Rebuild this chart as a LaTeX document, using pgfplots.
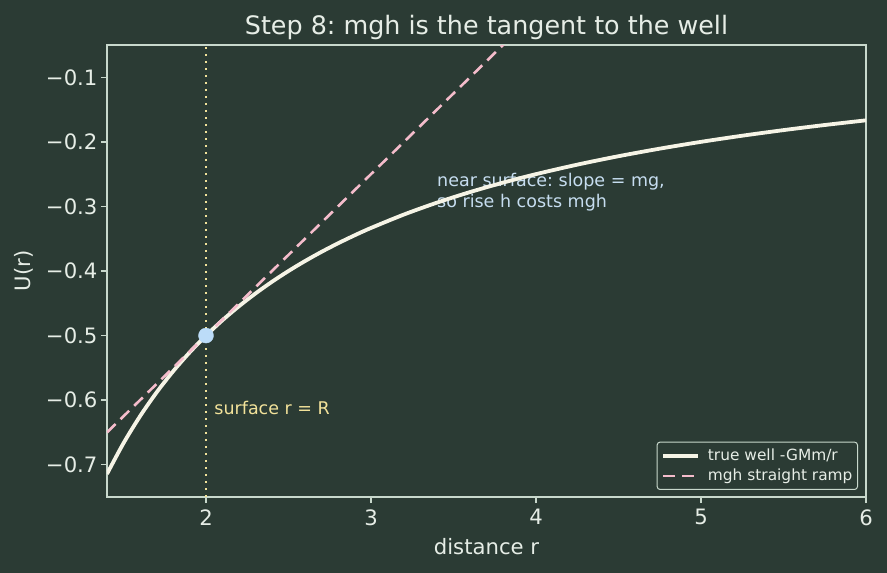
\documentclass[border=0pt]{standalone}
\usepackage{fontspec}
\setmainfont{DejaVu Sans}
\usepackage{pgfplots}
\pgfplotsset{compat=1.18}
\definecolor{bg}{HTML}{2B3B34}
\definecolor{spine}{HTML}{C8D8CC}
\definecolor{txt}{HTML}{E6EDE6}
\definecolor{curve}{HTML}{F6F4E6}
\definecolor{pinkd}{HTML}{F4BCCB}
\definecolor{yell}{HTML}{F2E29A}
\definecolor{bluem}{HTML}{BCDCF8}
\definecolor{bluet}{HTML}{C6DDF0}
\begin{document}
\frenchspacing
\begin{tikzpicture}
\fill[bg] (-107pt,-76pt) rectangle (780pt,497pt);
\path[use as bounding box] (-107pt,-76pt) rectangle (780pt,497pt);
\begin{axis}[
  at={(0,0)}, anchor=south west,
  scale only axis, width=759pt, height=452pt,
  xmin=1.4, xmax=6, ymin=-0.75, ymax=-0.05,
  axis line style={spine, line width=1.3pt},
  xtick={2,3,4,5,6}, xticklabels={2,3,4,5,6},
  ytick={-0.7,-0.6,-0.5,-0.4,-0.3,-0.2,-0.1},
  yticklabels={−0.7,−0.6,−0.5,−0.4,−0.3,−0.2,−0.1},
  xtick pos=bottom, ytick pos=left, tick align=outside,
  major tick length=6pt,
  every tick/.style={spine, line width=1.3pt},
  ticklabel style={font=\fontsize{21.2}{24}\selectfont, text=txt},
  xticklabel style={yshift=-3pt},
  xlabel={distance r}, ylabel={U(r)},
  label style={font=\fontsize{21.2}{24}\selectfont, text=txt},
  xlabel style={yshift=-6pt},
  ylabel style={yshift=6pt},
  title={\frenchspacing Step 8: mgh is the tangent to the well},
  title style={font=\fontsize{25.4}{28}\selectfont, text=txt, yshift=-4pt},
  clip=true,
  legend style={at={(1,0)}, anchor=south east, xshift=-8pt, yshift=7pt,
    fill=bg, draw=spine, line width=1pt, rounded corners=3pt,
    font=\fontsize{15.4}{18}\selectfont, text=txt, inner xsep=3pt, inner ysep=5pt,
    row sep=3pt},
  legend cell align=left,
  legend image code/.code={\draw[#1] (0pt,0pt) -- (35pt,0pt); \path (-1pt,0pt) (41pt,0pt);},
]
\addplot[yell, line width=2pt, dash pattern=on 2pt off 5pt, forget plot] coordinates {(2,-0.75) (2,-0.05)};
\node[anchor=north west, align=left, text=bluet, font=\fontsize{17.5}{20.5}\selectfont, inner sep=0pt] at (axis cs:3.4,-0.249) {near surface: slope = mg,\\so rise h costs mgh};
\node[anchor=base west, text=yell, font=\fontsize{17.5}{20.5}\selectfont, inner sep=0pt] at (axis cs:2.05,-0.622) {surface r = R};
\addplot[curve, line width=3.8pt, smooth] coordinates {
(1.4,-0.714286) (1.5,-0.666667) (1.6,-0.625) (1.7,-0.588235) (1.8,-0.555556)
(1.9,-0.526316) (2.0,-0.5) (2.1,-0.476190) (2.2,-0.454545) (2.3,-0.434783)
(2.4,-0.416667) (2.5,-0.4) (2.6,-0.384615) (2.7,-0.370370) (2.8,-0.357143)
(2.9,-0.344828) (3.0,-0.333333) (3.2,-0.3125) (3.4,-0.294118) (3.6,-0.277778)
(3.8,-0.263158) (4.0,-0.25) (4.25,-0.235294) (4.5,-0.222222) (4.75,-0.210526)
(5.0,-0.2) (5.25,-0.190476) (5.5,-0.181818) (5.75,-0.173913) (6.0,-0.166667)};
\addlegendentry{true well -GMm/r}
\addplot[pinkd, line width=2.6pt, dash pattern=on 12pt off 7pt] coordinates {(1.4,-0.65) (4.0,0.0)};
\addlegendentry{mgh straight ramp}
\addplot[only marks, mark=*, mark size=7.5pt, mark options={fill=bluem, draw=bluem}, forget plot] coordinates {(2,-0.5)};
\end{axis}
\end{tikzpicture}
\end{document}
